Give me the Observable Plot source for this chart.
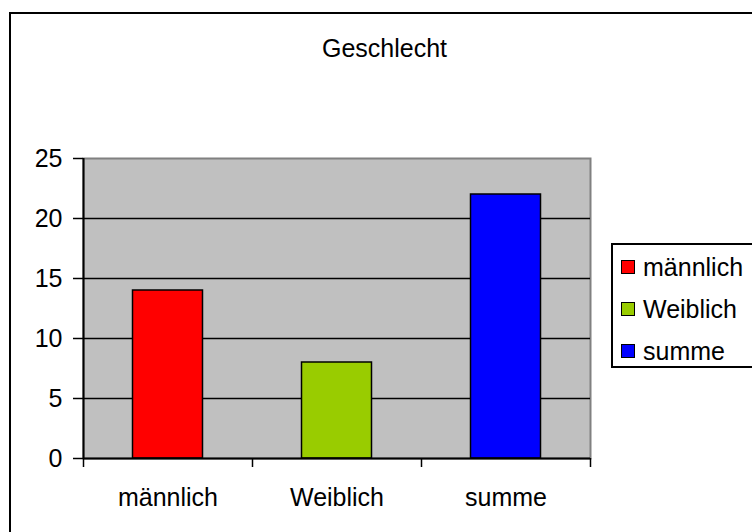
<!DOCTYPE html>
<html><head><meta charset="utf-8">
<script src="https://cdn.jsdelivr.net/npm/d3@7"></script>
<script src="https://cdn.jsdelivr.net/npm/@observablehq/plot@0.6"></script>
<style>
html,body{margin:0;padding:0;background:#fff;}
body{font-family:"Liberation Sans",Arial,sans-serif;}
#wrap{position:relative;width:752px;height:532px;overflow:hidden;}
#frame{position:absolute;left:9px;top:12px;width:800px;height:600px;border:2px solid #000;box-sizing:border-box;}
#chart{position:absolute;left:0;top:0;}
#title{position:absolute;left:9px;width:751px;top:36px;text-align:center;font-size:25px;line-height:25px;color:#000;}
#legend{position:absolute;left:611px;top:243px;width:200px;height:125px;border:2px solid #000;box-sizing:border-box;background:#fff;padding:1px 0 0 8px;}
.row{height:42px;line-height:42px;font-size:25px;display:flex;align-items:center;white-space:nowrap;}
.sw{width:12px;height:12px;border:1.5px solid #000;margin-right:8px;flex:none;}
</style>
</head><body>
<div id="wrap">
  <div id="frame"></div>
  <div id="chart"></div>
  <div id="title"></div>
  <div id="legend"></div>
</div>
<script>
const title = "Geschlecht";
const categories = ["männlich", "Weiblich", "summe"];
const values = [14, 8, 22];
const colors = ["#FF0000", "#99CC00", "#0000FF"];
const yTicks = [0, 5, 10, 15, 20, 25];
const gridLines = [5, 10, 15, 20];

const data = categories.map((c, i) => ({c, i, v: values[i], color: colors[i]}));

const chart = Plot.plot({
  width: 752, height: 532,
  marginLeft: 83, marginRight: 162, marginTop: 158, marginBottom: 74,
  style: {fontFamily: "'Liberation Sans', Arial, sans-serif", fontSize: "25px", background: "transparent", overflow: "visible", color: "#000"},
  x: {type: "linear", domain: [0, categories.length], label: null},
  y: {domain: [0, 25], label: null},
  color: {type: "identity"},
  marks: [
    Plot.frame({fill: "#c0c0c0", stroke: "#808080", strokeWidth: 2}),
    Plot.ruleY(gridLines, {stroke: "#000", strokeWidth: 1.5}),
    Plot.rectY(data, {x1: "i", x2: d => d.i + 1, y: "v", fill: d => d.color, stroke: "#000", strokeWidth: 1.5, insetLeft: 49.5, insetRight: 49.5}),
    Plot.ruleX([0], {stroke: "#000", strokeWidth: 2}),
    Plot.ruleY([0], {stroke: "#000", strokeWidth: 2}),
    Plot.axisY({ticks: yTicks, tickSize: 10, tickPadding: 11, tickFormat: d => String(d), color: "#000", strokeWidth: 1.5, strokeOpacity: 1}),
    Plot.axisX({ticks: d3.range(categories.length + 1), tickSize: 9, tickFormat: () => "", color: "#000", strokeWidth: 1.5, strokeOpacity: 1}),
    Plot.axisX({ticks: categories.map((c, i) => i + 0.5), tickSize: 0, tickPadding: 30, tickFormat: d => categories[Math.floor(d)], color: "#000"})
  ]
});
document.getElementById("chart").appendChild(chart);
document.getElementById("title").textContent = title;

const legend = document.getElementById("legend");
categories.forEach((c, i) => {
  const row = document.createElement("div");
  row.className = "row";
  const sw = document.createElement("span");
  sw.className = "sw";
  sw.style.background = colors[i];
  const t = document.createElement("span");
  t.textContent = c;
  row.appendChild(sw);
  row.appendChild(t);
  legend.appendChild(row);
});
</script>
</body></html>
